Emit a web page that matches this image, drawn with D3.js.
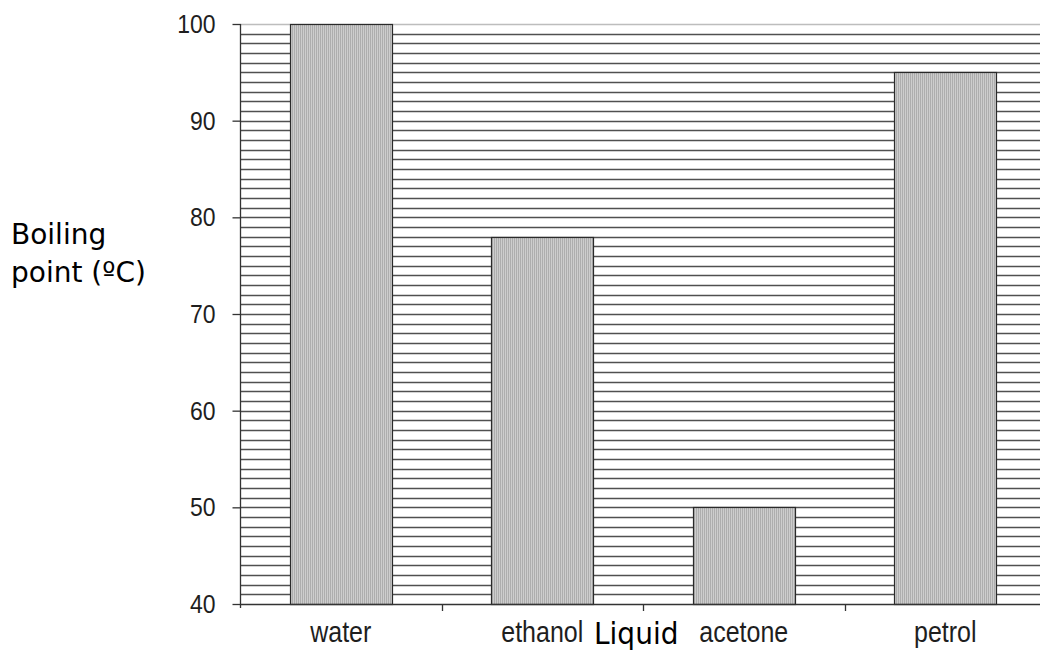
<!DOCTYPE html>
<html>
<head>
<meta charset="utf-8">
<script src="https://cdn.jsdelivr.net/npm/d3@7/dist/d3.min.js"></script>
<style>
  body { margin: 0; background: #fff; }
  svg { display: block; }
</style>
</head>
<body>
<svg width="1040" height="651"></svg>
<script>
const liquids = ['water', 'ethanol', 'acetone', 'petrol'];
const boilingPoints = [100, 78, 50, 95];
const yTicks = [40, 50, 60, 70, 80, 90, 100];

const svg = d3.select('svg');

// pattern for the bar fill: fine vertical stripes
const defs = svg.append('defs');
const pat = defs.append('pattern')
  .attr('id', 'stripes')
  .attr('patternUnits', 'userSpaceOnUse')
  .attr('width', 2)
  .attr('height', 2);
pat.append('rect').attr('width', 2).attr('height', 2).attr('fill', '#cdcdcd');
pat.append('rect').attr('width', 1).attr('height', 2).attr('fill', '#adadad');

const x = d3.scaleBand()
  .domain(liquids)
  .range([240, 1046])
  .paddingInner(0.494)
  .paddingOuter(0.247);

const y = d3.scaleLinear()
  .domain([40, 100])
  .range([604, 24]);

// horizontal gridlines, one per degree
const grid = d3.range(41, 101);
svg.append('g')
  .selectAll('line')
  .data(grid)
  .join('line')
  .attr('x1', 240)
  .attr('x2', 1040)
  .attr('y1', d => Math.round(y(d)) + 0.5)
  .attr('y2', d => Math.round(y(d)) + 0.5)
  .attr('stroke', d => d === 100 ? '#bdbdbd' : '#505050')
  .attr('stroke-width', 1.4);

// bars
svg.append('g')
  .selectAll('rect')
  .data(liquids)
  .join('rect')
  .attr('x', d => Math.round(x(d)) + 0.5)
  .attr('y', (d, i) => Math.round(y(boilingPoints[i])) + 0.5)
  .attr('width', Math.round(x.bandwidth()))
  .attr('height', (d, i) => Math.round(y(40)) - Math.round(y(boilingPoints[i])))
  .attr('fill', 'url(#stripes)')
  .attr('stroke', '#2a2a2a')
  .attr('stroke-width', 1.2);

// y axis
const yAxis = svg.append('g')
  .attr('transform', 'translate(240.5,0)')
  .call(d3.axisLeft(y).tickValues(yTicks).tickSize(8).tickPadding(17));
yAxis.select('.domain').attr('stroke', '#333').attr('stroke-width', 1.3)
  .attr('d', 'M0,24V608');
yAxis.selectAll('.tick line').attr('stroke', '#333').attr('stroke-width', 1.3);
yAxis.selectAll('.tick text')
  .attr('font-family', '"Liberation Sans", Arial, sans-serif')
  .attr('font-size', 23)
  .attr('fill', '#1e1e1e')
  .attr('transform', 'scale(1,1.15)');

// x axis line with ticks on category boundaries
svg.append('line')
  .attr('x1', 240).attr('x2', 1040)
  .attr('y1', 604.5).attr('y2', 604.5)
  .attr('stroke', '#333').attr('stroke-width', 1.3);

svg.append('g')
  .selectAll('line')
  .data(liquids.slice(1))
  .join('line')
  .attr('x1', d => Math.round(x(d) - x.step() * x.paddingInner() / 2) + 0.5)
  .attr('x2', d => Math.round(x(d) - x.step() * x.paddingInner() / 2) + 0.5)
  .attr('y1', 604)
  .attr('y2', 611)
  .attr('stroke', '#333')
  .attr('stroke-width', 1.3);

svg.append('g')
  .selectAll('text')
  .data(liquids)
  .join('text')
  .attr('transform', d => `translate(${x(d) + x.bandwidth() / 2},642) scale(1,1.15)`)
  .attr('text-anchor', 'middle')
  .attr('font-family', '"Liberation Sans", Arial, sans-serif')
  .attr('font-size', 25)
  .attr('fill', '#1e1e1e')
  .text(d => d);

// axis titles
svg.append('text')
  .attr('transform', 'translate(594,644) scale(1,1.06)')
  .attr('font-family', '"DejaVu Sans", sans-serif')
  .attr('font-size', 28)
  .attr('fill', '#000')
  .text('Liquid');

const yTitle = svg.append('text')
  .attr('font-family', '"DejaVu Sans", sans-serif')
  .attr('font-size', 28)
  .attr('fill', '#000');
yTitle.append('tspan').attr('x', 11).attr('y', 244).text('Boiling');
yTitle.append('tspan').attr('x', 11).attr('y', 282).text('point (ºC)');
</script>
</body>
</html>
